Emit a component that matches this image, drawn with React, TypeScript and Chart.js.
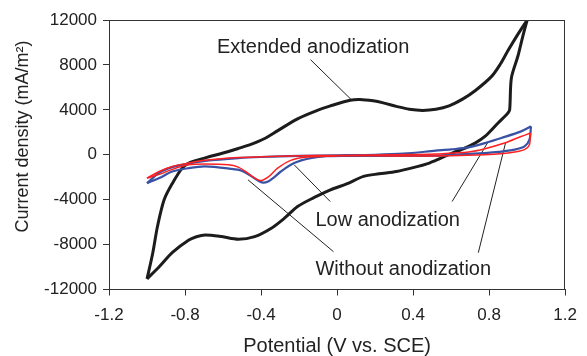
import React, { useEffect, useRef } from "react";
import { Chart, registerables } from "chart.js";

Chart.register(...registerables);

// Axis ticks
const xTickValues = [-1.2, -0.8, -0.4, 0, 0.4, 0.8, 1.2];
const yTickValues = [-12000, -8000, -4000, 0, 4000, 8000, 12000];

const xTitle = "Potential (V vs. SCE)";
const yTitle = "Current density (mA/m\u00B2)";

// Extended anodization (black) – anodic sweep
const extFwdX = [-1.0, -0.97, -0.945, -0.91, -0.866, -0.815, -0.78, -0.694, -0.6, -0.52, -0.45, -0.381, -0.312, -0.208, -0.104, -0.035, 0.069, 0.12, 0.19, 0.243, 0.312, 0.38, 0.45, 0.52, 0.589, 0.66, 0.726, 0.813, 0.86, 0.9, 0.95, 1.0];
const extFwdY = [-11050, -8770, -6390, -4010, -2530, -1190, -740, -280, 150, 560, 950, 1450, 2150, 3200, 3950, 4350, 4850, 4920, 4800, 4620, 4310, 4050, 3950, 4050, 4350, 4950, 5700, 6980, 8100, 9300, 10700, 12000];
// Extended anodization (black) – cathodic sweep
const extRevX = [1.0, 0.977, 0.951, 0.917, 0.908, 0.899, 0.847, 0.778, 0.726, 0.66, 0.606, 0.54, 0.485, 0.4, 0.312, 0.22, 0.139, 0.05, -0.035, -0.12, -0.208, -0.277, -0.346, -0.434, -0.52, -0.607, -0.694, -0.74, -0.78, -0.866, -0.937, -1.0];
const extRevY = [12000, 10550, 8770, 6840, 4010, 3720, 2830, 1630, 1040, 500, 150, -350, -740, -1150, -1490, -1700, -1930, -2600, -3120, -3800, -4610, -5650, -6540, -7290, -7520, -7290, -7150, -7300, -7600, -8700, -10000, -11050];

// Without anodization (red)
const redFwdX = [-1.0, -0.936, -0.867, -0.78, -0.694, -0.52, -0.4, -0.2, 0.0, 0.2, 0.4, 0.518, 0.6, 0.691, 0.778, 0.881, 0.968, 1.017];
const redFwdY = [-2080, -1490, -1040, -740, -500, -250, -180, -100, -60, -30, 20, 60, 150, 240, 540, 1040, 1630, 1930];
const redRevX = [1.017, 1.012, 0.986, 0.934, 0.86, 0.778, 0.6, 0.4, 0.2, 0.0, -0.156, -0.244, -0.313, -0.36, -0.4, -0.44, -0.48, -0.52, -0.572, -0.694, -0.78, -0.867, -0.936, -1.0];
const redRevY = [1930, 890, 450, 240, 80, 0, -80, -120, -100, -100, -200, -500, -1200, -1950, -2300, -2000, -1500, -1100, -900, -830, -900, -1300, -1750, -2080];

// Low anodization (blue)
const blueFwdX = [-1.0, -0.936, -0.867, -0.78, -0.694, -0.52, -0.4, -0.2, 0.0, 0.2, 0.35, 0.518, 0.6, 0.691, 0.778, 0.864, 0.968, 1.02];
const blueFwdY = [-2530, -1600, -1100, -780, -550, -300, -200, -100, -50, 0, 100, 360, 480, 650, 1040, 1490, 2080, 2530];
const blueRevX = [1.02, 1.012, 0.986, 0.934, 0.85, 0.778, 0.6, 0.518, 0.3, 0.1, -0.054, -0.14, -0.226, -0.296, -0.33, -0.36, -0.39, -0.416, -0.452, -0.503, -0.56, -0.694, -0.78, -0.867, -0.936, -1.0];
const blueRevY = [2530, 1340, 740, 450, 250, 150, 0, -80, -100, -100, -120, -300, -740, -1490, -2000, -2350, -2480, -2300, -1900, -1420, -1250, -1040, -1190, -1490, -2080, -2530];

// Annotation labels (data coordinates of the text's left baseline)
const labelTexts = ["Extended anodization", "Low anodization", "Without anodization"];
const labelX = [-0.632, -0.114, -0.114];
const labelY = [9070, -6330, -10700];

// Leader lines: [x0, y0, x1, y1]
const leaderExtended = [-0.14, 8470, 0.075, 4900];
const leaderLowA = [-0.226, -890, -0.036, -4170];
const leaderLowB = [0.605, -4170, 0.795, 1150];
const leaderWithoutA = [-0.469, -2230, -0.019, -8630];
const leaderWithoutB = [0.743, -8720, 0.886, 1040];

const FONT = '"Liberation Sans", Arial, Helvetica, sans-serif';

const pts = (xs: number[], ys: number[]) => xs.map((x, i) => ({ x, y: ys[i] }));
const seg = (s: number[]) => [{ x: s[0], y: s[1] }, { x: s[2], y: s[3] }];

const curve = (data: any[], color: string, width: number) => ({
  data,
  borderColor: color,
  backgroundColor: color,
  borderWidth: width,
  showLine: true,
  tension: 0.3,
  pointRadius: 0,
  pointHoverRadius: 0,
  fill: false,
});

const leader = (s: number[]) => ({
  data: seg(s),
  borderColor: "#222",
  backgroundColor: "#222",
  borderWidth: 1,
  showLine: true,
  tension: 0,
  pointRadius: 0,
  pointHoverRadius: 0,
  fill: false,
});

const overlayPlugin = {
  id: "overlay",
  afterDatasetsDraw(chart: any) {
    const { ctx, chartArea: a, scales } = chart;
    const xs = scales.x;
    const ys = scales.y;
    ctx.save();
    // frame
    ctx.strokeStyle = "#333";
    ctx.lineWidth = 1;
    ctx.strokeRect(Math.round(a.left) + 0.5, Math.round(a.top) + 0.5, Math.round(a.right - a.left) - 1, Math.round(a.bottom - a.top) - 1);
    // annotation text
    ctx.font = `20px ${FONT}`;
    ctx.fillStyle = "#222";
    ctx.textAlign = "left";
    ctx.textBaseline = "alphabetic";
    labelTexts.forEach((t, i) => {
      ctx.fillText(t, xs.getPixelForValue(labelX[i]), ys.getPixelForValue(labelY[i]));
    });
    // y-axis title
    ctx.translate(23, 136.5);
    ctx.rotate(-Math.PI / 2);
    ctx.font = `18px ${FONT}`;
    ctx.textAlign = "center";
    ctx.textBaseline = "middle";
    ctx.fillText(yTitle, 0, 0);
    ctx.restore();
  },
};

export default function App() {
  const ref = useRef<HTMLCanvasElement>(null);
  useEffect(() => {
    if (!ref.current) return;
    const chart = new Chart(ref.current, {
      type: "scatter",
      data: {
        datasets: [
          curve(pts(redFwdX, redFwdY), "#ff2020", 1.5),
          curve(pts(redRevX, redRevY), "#ff2020", 1.5),
          curve(pts(blueFwdX, blueFwdY), "#3a52a4", 2.2),
          curve(pts(blueRevX, blueRevY), "#3a52a4", 2.2),
          curve(pts(extFwdX, extFwdY), "#1c1c1c", 3),
          curve(pts(extRevX, extRevY), "#1c1c1c", 3),
          leader(leaderExtended),
          leader(leaderLowA),
          leader(leaderLowB),
          leader(leaderWithoutA),
          leader(leaderWithoutB),
        ] as any,
      },
      options: {
        responsive: false,
        animation: false,
        devicePixelRatio: 1,
        layout: { padding: { top: 20, right: 16, bottom: 0, left: 0 } },
        plugins: {
          legend: { display: false },
          tooltip: { enabled: false },
        },
        events: [],
        scales: {
          x: {
            type: "linear",
            min: -1.2,
            max: 1.2,
            afterBuildTicks: (s: any) => {
              s.ticks = xTickValues.map((v) => ({ value: v }));
            },
            afterFit: (s: any) => {
              s.height = 66.5;
            },
            grid: { display: true, drawOnChartArea: false, drawTicks: true, tickLength: 6, color: "#333" },
            border: { display: true, color: "#333", width: 1 },
            ticks: {
              font: { family: FONT, size: 17 },
              color: "#222",
              padding: 10,
              maxRotation: 0,
              autoSkip: false,
              callback: (v: any) => String(v),
            },
            title: {
              display: true,
              text: xTitle,
              font: { family: FONT, size: 20, lineHeight: 1 },
              color: "#222",
              padding: { top: 0, bottom: 0 },
            },
          },
          y: {
            type: "linear",
            min: -12000,
            max: 12000,
            afterBuildTicks: (s: any) => {
              s.ticks = yTickValues.map((v) => ({ value: v }));
            },
            afterFit: (s: any) => {
              s.width = 109;
            },
            grid: { display: true, drawOnChartArea: false, drawTicks: true, tickLength: 6, color: "#333" },
            border: { display: true, color: "#333", width: 1 },
            ticks: {
              font: { family: FONT, size: 17 },
              color: "#222",
              padding: 6,
              autoSkip: false,
              callback: (v: any) => String(v),
            },
            title: { display: false },
          },
        },
      } as any,
      plugins: [overlayPlugin],
    });
    return () => chart.destroy();
  }, []);
  return (
    <div style={{ position: "absolute", left: 0, top: 0, width: 587, height: 356 }}>
      <canvas ref={ref} width={587} height={356} style={{ display: "block" }} />
    </div>
  );
}
